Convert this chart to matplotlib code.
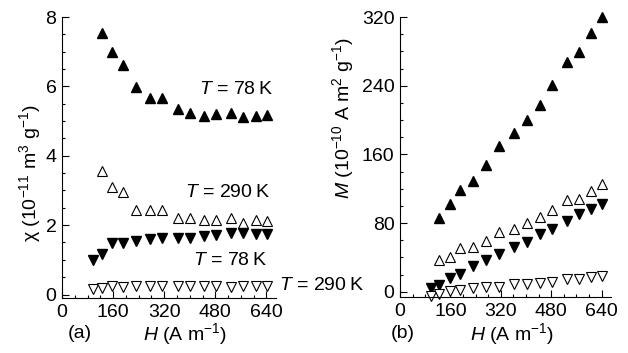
import numpy as np
import matplotlib
matplotlib.use("Agg")
import matplotlib.pyplot as plt
from matplotlib.ticker import MultipleLocator

plt.rcParams['font.family'] = ['Liberation Sans', 'DejaVu Sans']
plt.rcParams['mathtext.fontset'] = 'custom'
plt.rcParams['mathtext.rm'] = 'Liberation Sans'
plt.rcParams['mathtext.it'] = 'Liberation Sans:italic'
plt.rcParams['font.size'] = 14

# field values (A m^-1); up-triangle series start at the second point
H_all = [98, 125, 158, 192, 233, 274, 314, 362, 402, 444, 482, 529, 568, 607, 643]
H_up = H_all[1:]

# (a) susceptibility, 10^-11 m^3 g^-1
chi_78_up = [7.53, 6.98, 6.61, 5.97, 5.67, 5.67, 5.36, 5.23, 5.15, 5.2, 5.23, 5.13, 5.15, 5.18]
chi_290_up = [3.55, 3.1, 2.95, 2.45, 2.45, 2.45, 2.2, 2.2, 2.15, 2.15, 2.2, 2.05, 2.15, 2.12]
chi_78_down = [0.99, 1.18, 1.49, 1.49, 1.55, 1.61, 1.64, 1.64, 1.64, 1.68, 1.71, 1.76, 1.76, 1.74, 1.74]
chi_290_down = [0.15, 0.18, 0.24, 0.22, 0.24, 0.24, 0.24, 0.24, 0.24, 0.24, 0.24, 0.22, 0.24, 0.24, 0.24]

# (b) magnetisation, 10^-10 A m^2 g^-1
M_78_up = [86, 102, 119, 129, 148, 170, 185, 200, 218, 241, 268, 279, 301, 320]
M_290_up = [37.5, 41, 51, 52, 59, 69.5, 73.5, 80.5, 87, 95, 107, 108, 117.5, 125]
M_78_down = [4.3, 8, 16, 21, 30, 37.5, 44.5, 52, 58, 67, 73.5, 82, 91, 96, 102]
M_290_down = [-4.7, -2.3, 1.2, 2.3, 3.9, 5.5, 6.2, 9, 9, 10, 11, 15, 15, 17, 19]

fig = plt.figure(figsize=(6.28, 3.53), dpi=100)
axa = fig.add_axes([62/628, 1-298/353, 214/628, 281/353])
axb = fig.add_axes([400/628, 1-297/353, 211/628, 280/353])

ms = 7.5
def plot_set(ax, up78, up290, dn78, dn290):
    ax.plot(H_up, up78, '^', ms=ms, color='black', ls='none', clip_on=False)
    ax.plot(H_up, up290, '^', ms=ms, mfc='white', mec='black', mew=0.8, ls='none', clip_on=False)
    ax.plot(H_all, dn78, 'v', ms=ms, color='black', ls='none', clip_on=False)
    ax.plot(H_all, dn290, 'v', ms=ms, mfc='white', mec='black', mew=0.8, ls='none', clip_on=False)

plot_set(axa, chi_78_up, chi_290_up, chi_78_down, chi_290_down)
plot_set(axb, M_78_up, M_290_up, M_78_down, M_290_down)

for ax in (axa, axb):
    ax.set_xlim(0, 670)
    ax.xaxis.set_major_locator(MultipleLocator(160))
    ax.xaxis.set_minor_locator(MultipleLocator(40))
    for s in ('top', 'right'):
        ax.spines[s].set_visible(False)
    for s in ('left', 'bottom'):
        ax.spines[s].set_linewidth(0.8)
    ax.tick_params(which='both', direction='in', width=0.8, labelsize=14, pad=4)
    ax.tick_params(which='major', length=5)
    ax.tick_params(which='minor', length=2.5)

axa.set_ylim(-0.1, 8)
axa.yaxis.set_major_locator(MultipleLocator(2))
axa.yaxis.set_minor_locator(MultipleLocator(0.5))
axb.set_ylim(-6, 320)
axb.yaxis.set_major_locator(MultipleLocator(80))
axb.yaxis.set_minor_locator(MultipleLocator(20))

axa.text(-0.15, 0.445, "χ (10$^{-11}$ m$^3$ g$^{-1}$)", rotation=90,
         transform=axa.transAxes, ha='center', va='center')
axb.text(-0.27, 0.64, "$M$ (10$^{-10}$ A m$^2$ g$^{-1}$)", rotation=90,
         transform=axb.transAxes, ha='center', va='center')
axa.text(0.575, -0.128, "$H$ (A m$^{-1}$)", transform=axa.transAxes, ha='center', va='center')
axb.text(0.53, -0.132, "$H$ (A m$^{-1}$)", transform=axb.transAxes, ha='center', va='center')
fig.text(80/628, 1-334/353, "(a)", ha='center', va='center')
fig.text(403/628, 1-334/353, "(b)", ha='center', va='center')

axa.text(430, 5.9, "$T$ = 78\u2009K", ha='left', va='center')
axa.text(386, 2.93, "$T$ = 290\u2009K", ha='left', va='center')
axa.text(411, 0.99, "$T$ = 78\u2009K", ha='left', va='center')
axa.text(678, 0.26, "$T$ = 290\u2009K", ha='left', va='center', clip_on=False)

fig.savefig("out.png", dpi=100)
